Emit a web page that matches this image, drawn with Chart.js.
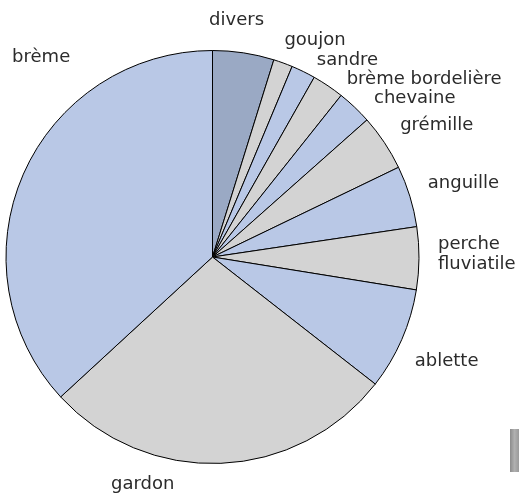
<!DOCTYPE html>
<html lang="fr">
<head>
  <meta charset="UTF-8">
  <title>Poissons</title>
  <script src="https://cdn.jsdelivr.net/npm/chart.js"></script>
  <style>
    html, body { margin: 0; padding: 0; background: #fff; }
    #wrap { position: relative; width: 519px; height: 494px; }
  </style>
</head>
<body>
  <div id="wrap"><canvas id="pie"></canvas></div>

  <script>
    // espèces, dans l'ordre du camembert (sens horaire depuis midi)
    const especes = ['divers', 'goujon', 'sandre', 'brème bordelière', 'chevaine', 'grémille',
                     'anguille', 'perche fluviatile', 'ablette', 'gardon', 'brème'];
    // parts en %
    const parts = [4.8, 1.5, 1.9, 2.5, 2.75, 4.4, 4.8, 4.9, 8.0, 27.6, 36.85];
    const couleurs = ['#9aa9c4', '#d3d3d3', '#b9c8e6', '#d3d3d3', '#b9c8e6', '#d3d3d3',
                      '#b9c8e6', '#d3d3d3', '#b9c8e6', '#d3d3d3', '#b9c8e6'];

    // placement des étiquettes : angle (degrés depuis midi), distance (x rayon), alignement
    const etiquettes = [
      [5.8, 1.152, 'center'], [25.3, 1.162, 'center'], [34.4, 1.157, 'center'],
      [50.0, 1.338, 'center'], [51.9, 1.245, 'center'], [59.5, 1.26, 'center'],
      [73.6, 1.267, 'center'], [89.2, 1.092, 'left'], [114.1, 1.242, 'center'],
      [197.1, 1.15, 'center'], [319.4, 1.275, 'center']
    ];

    const pluginEtiquettes = {
      id: 'etiquettes',
      afterDraw(chart) {
        const arc = chart.getDatasetMeta(0).data[0];
        const cx = arc.x, cy = arc.y, r = arc.outerRadius;
        const ctx = chart.ctx;
        ctx.save();
        ctx.font = '18px "DejaVu Sans"';
        ctx.fillStyle = '#2b2b2b';
        ctx.textBaseline = 'middle';
        especes.forEach((nom, i) => {
          const [a, d, align] = etiquettes[i];
          const rad = a * Math.PI / 180;
          const x = cx + Math.sin(rad) * r * d;
          const y = cy - Math.cos(rad) * r * d;
          ctx.textAlign = align;
          const lignes = nom === 'perche fluviatile' ? ['perche', 'fluviatile'] : [nom];
          const h = 20;
          lignes.forEach((l, k) => {
            ctx.fillText(l, x, y + (k - (lignes.length - 1) / 2) * h);
          });
        });
        // petite barre grise en bas à droite
        const g = ctx.createLinearGradient(510, 0, 519, 0);
        g.addColorStop(0, '#8c8c8c');
        g.addColorStop(0.5, '#b0b0b0');
        g.addColorStop(1, '#9a9a9a');
        ctx.fillStyle = g;
        ctx.fillRect(510, 429, 9, 43);
        ctx.restore();
      }
    };

    new Chart(document.getElementById('pie'), {
      type: 'pie',
      data: {
        labels: especes,
        datasets: [{
          data: parts,
          backgroundColor: couleurs,
          borderColor: '#000',
          borderWidth: 1
        }]
      },
      options: {
        responsive: true,
        maintainAspectRatio: false,
        animation: false,
        layout: { padding: { left: 5, right: 99, top: 50, bottom: 30 } },
        plugins: {
          legend: { display: false },
          tooltip: { enabled: false }
        }
      },
      plugins: [pluginEtiquettes]
    });
  </script>
</body>
</html>
